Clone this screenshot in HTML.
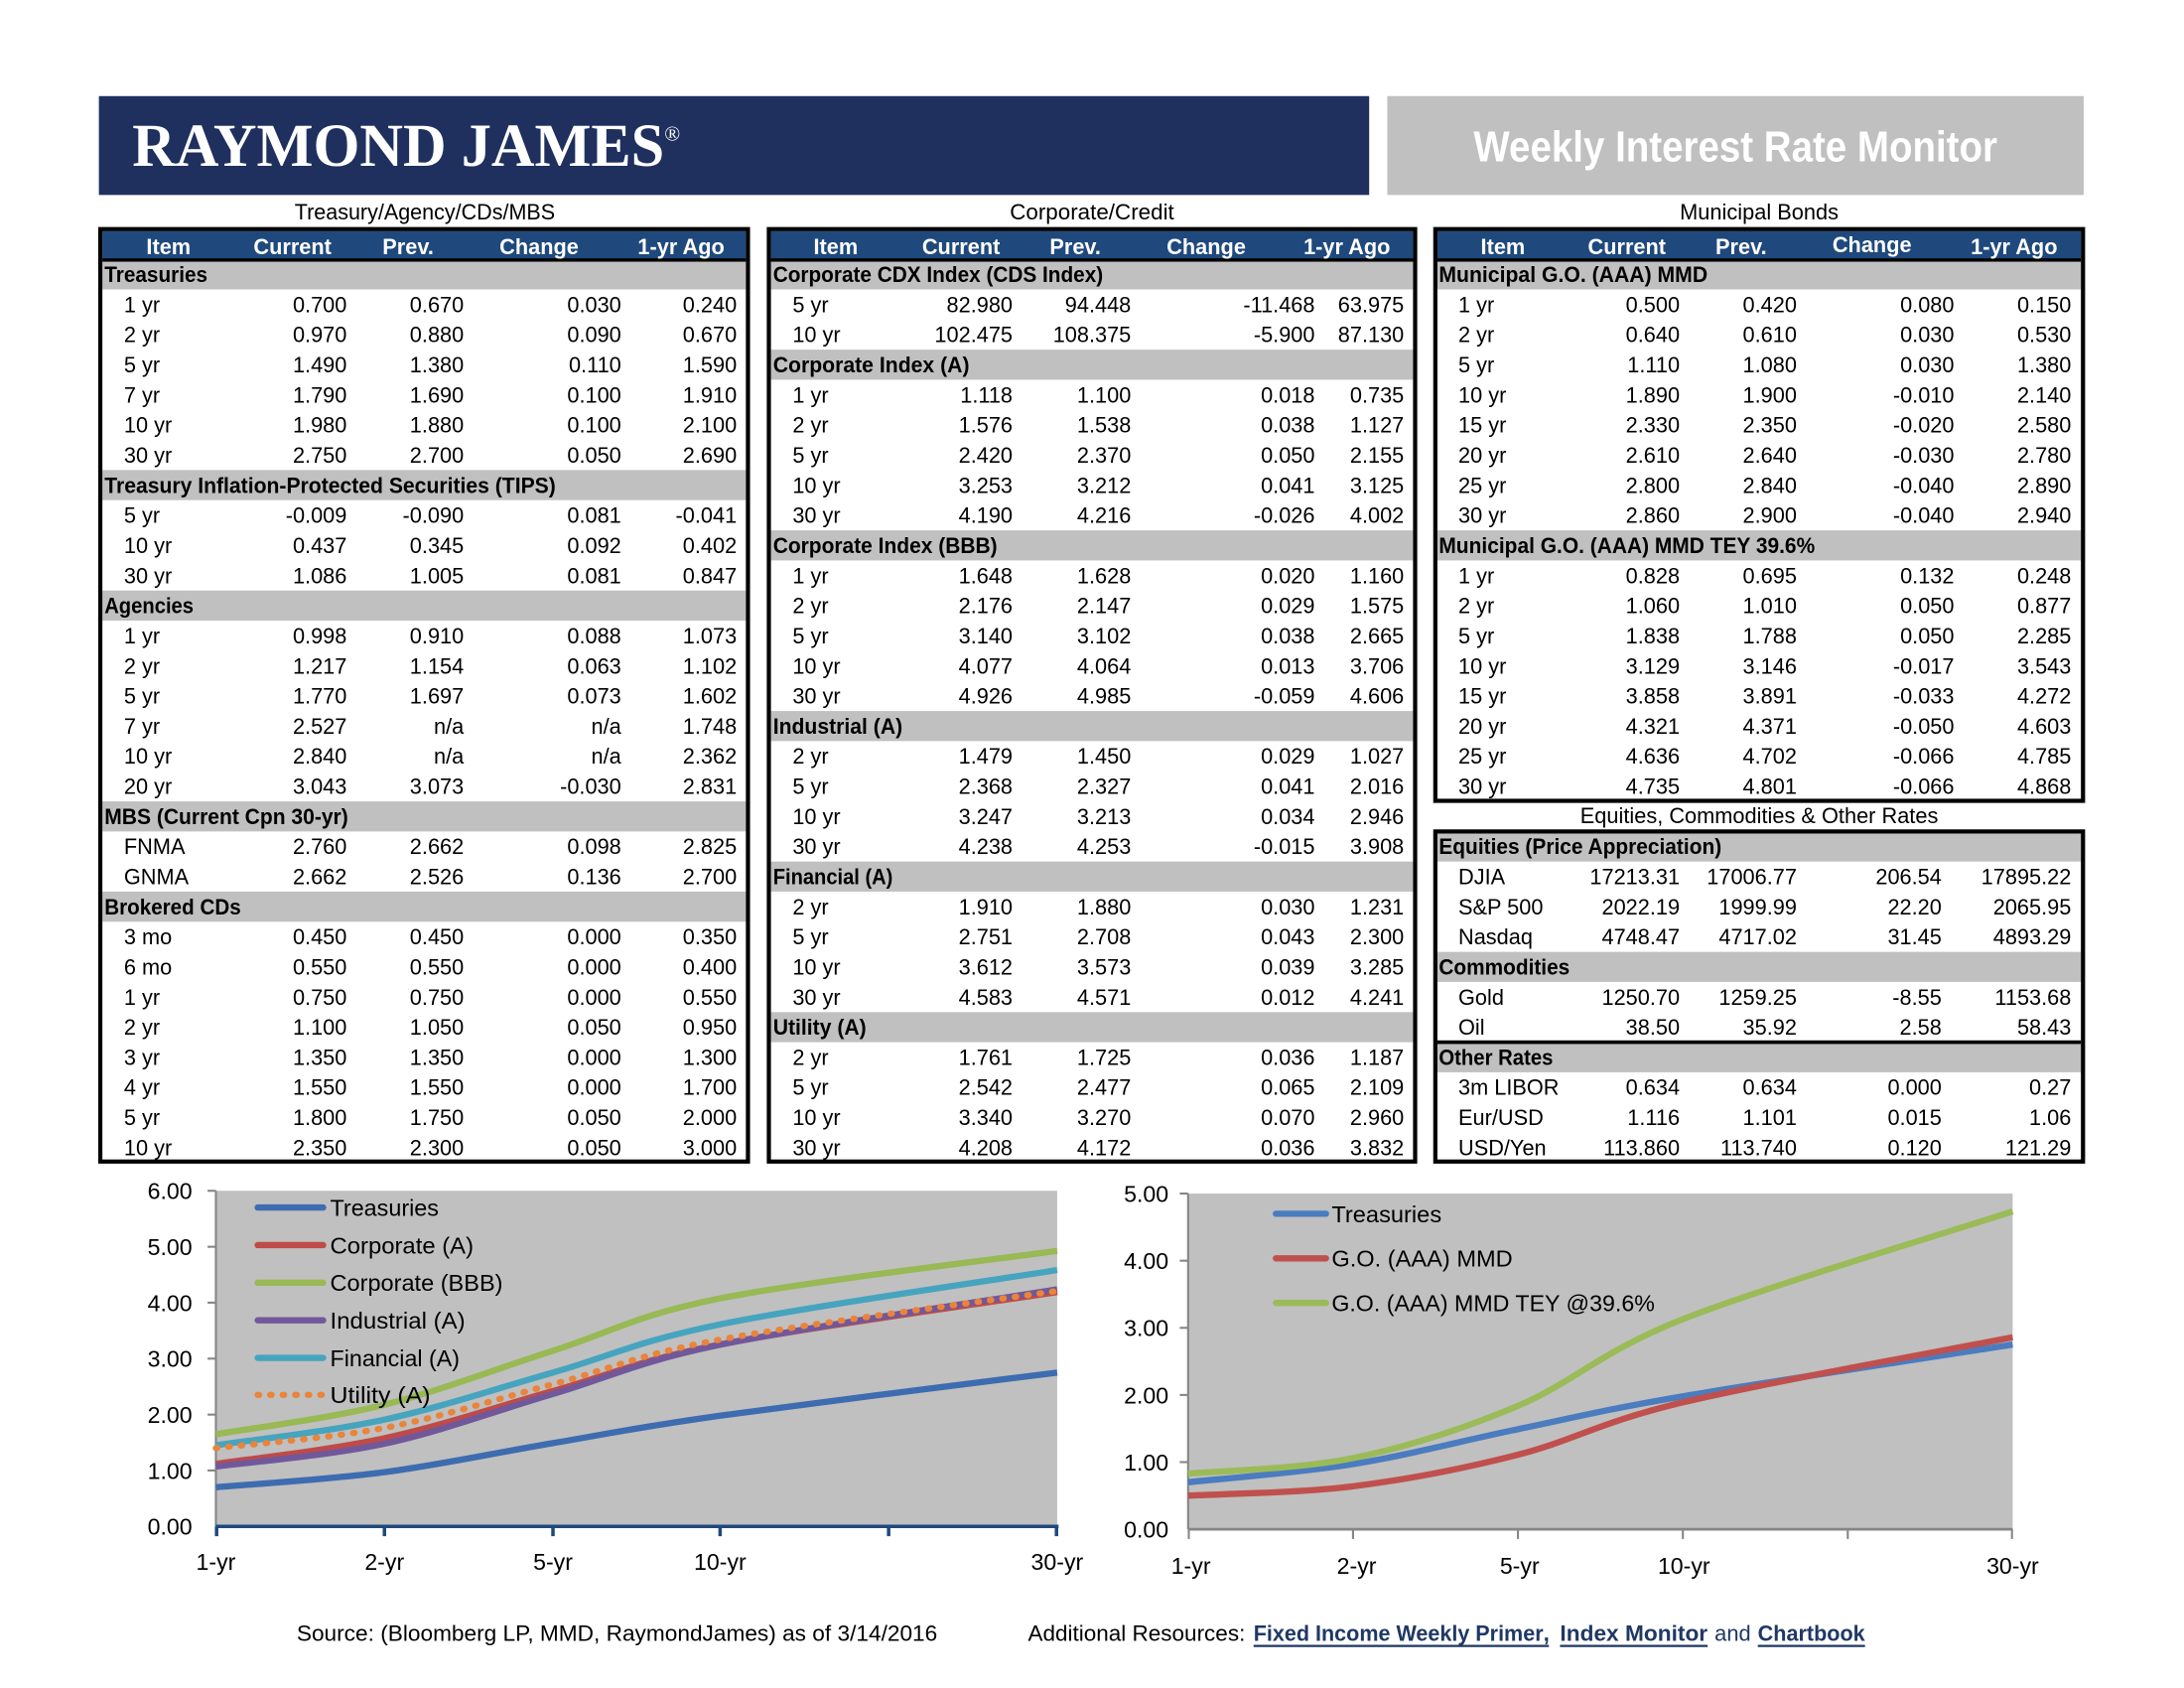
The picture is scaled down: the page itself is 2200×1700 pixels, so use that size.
<!DOCTYPE html>
<html><head><meta charset="utf-8"><style>
html,body{margin:0;padding:0;background:#fff;}
svg{display:block;}
text{font-family:"Liberation Sans",Arial,sans-serif;font-size:15.5px;fill:#000;}
.r{text-anchor:end}
.b{font-weight:bold}
.h{fill:#fff;font-weight:bold;text-anchor:middle}
.m{text-anchor:middle}
.ax{font-size:16.5px}
</style></head><body>
<svg xmlns="http://www.w3.org/2000/svg" width="2200" height="1700" viewBox="0 0 1568 1212" preserveAspectRatio="none">
<rect x="0" y="0" width="1568" height="1212" fill="#fff"/>
<!-- Header -->
<rect x="71" y="69" width="912" height="71" fill="#1f305e"/>
<text x="95" y="119" style="font-family:'Liberation Serif',serif;font-size:44px;font-weight:bold;fill:#fff" textLength="382" lengthAdjust="spacingAndGlyphs">RAYMOND JAMES</text>
<text x="477" y="101" style="font-family:'Liberation Serif',serif;font-size:15px;fill:#fff">®</text>
<rect x="996" y="69" width="500" height="71" fill="#c0c0c0"/>
<text x="1058" y="116" style="font-size:31px;font-weight:bold;fill:#fff" textLength="376" lengthAdjust="spacingAndGlyphs">Weekly Interest Rate Monitor</text>

<!-- Section titles -->
<text class="m" x="305" y="157.5" textLength="187" lengthAdjust="spacingAndGlyphs">Treasury/Agency/CDs/MBS</text>
<text class="m" x="784" y="157.5" textLength="118" lengthAdjust="spacingAndGlyphs">Corporate/Credit</text>
<text class="m" x="1263" y="157.5" textLength="114" lengthAdjust="spacingAndGlyphs">Municipal Bonds</text>
<text class="m" x="1263" y="591" textLength="257" lengthAdjust="spacingAndGlyphs">Equities, Commodities &amp; Other Rates</text>

<!-- ============ TABLE 1 ============ -->
<rect x="72" y="164.5" width="465" height="669.5" fill="#fff"/>
<rect x="73.5" y="166" width="462" height="20" fill="#1f497d"/>
<rect x="73.5" y="185.5" width="462" height="2.5" fill="#000"/>
<rect x="73.5" y="188" width="462" height="19.8" fill="#c0c0c0"/>
<rect x="73.5" y="337.5" width="462" height="21.6" fill="#c0c0c0"/>
<rect x="73.5" y="424" width="462" height="21.6" fill="#c0c0c0"/>
<rect x="73.5" y="575.4" width="462" height="21.6" fill="#c0c0c0"/>
<rect x="73.5" y="640.2" width="462" height="21.6" fill="#c0c0c0"/>
<rect x="72" y="164.5" width="465" height="669.5" fill="none" stroke="#000" stroke-width="3"/>
<text class="h" y="182.5"><tspan x="121">Item</tspan><tspan x="210">Current</tspan><tspan x="293">Prev.</tspan><tspan x="387">Change</tspan><tspan x="489">1-yr Ago</tspan></text>

<text class="b" x="75" y="202.5" textLength="74" lengthAdjust="spacingAndGlyphs">Treasuries</text>
<text x="89" y="224.1">1 yr</text><text class="r" y="224.1"><tspan x="249">0.700</tspan><tspan x="333">0.670</tspan><tspan x="446">0.030</tspan><tspan x="529">0.240</tspan></text>
<text x="89" y="245.7">2 yr</text><text class="r" y="245.7"><tspan x="249">0.970</tspan><tspan x="333">0.880</tspan><tspan x="446">0.090</tspan><tspan x="529">0.670</tspan></text>
<text x="89" y="267.4">5 yr</text><text class="r" y="267.4"><tspan x="249">1.490</tspan><tspan x="333">1.380</tspan><tspan x="446">0.110</tspan><tspan x="529">1.590</tspan></text>
<text x="89" y="289">7 yr</text><text class="r" y="289"><tspan x="249">1.790</tspan><tspan x="333">1.690</tspan><tspan x="446">0.100</tspan><tspan x="529">1.910</tspan></text>
<text x="89" y="310.6">10 yr</text><text class="r" y="310.6"><tspan x="249">1.980</tspan><tspan x="333">1.880</tspan><tspan x="446">0.100</tspan><tspan x="529">2.100</tspan></text>
<text x="89" y="332.2">30 yr</text><text class="r" y="332.2"><tspan x="249">2.750</tspan><tspan x="333">2.700</tspan><tspan x="446">0.050</tspan><tspan x="529">2.690</tspan></text>
<text class="b" x="75" y="353.8" textLength="324" lengthAdjust="spacingAndGlyphs">Treasury Inflation-Protected Securities (TIPS)</text>
<text x="89" y="375.5">5 yr</text><text class="r" y="375.5"><tspan x="249">-0.009</tspan><tspan x="333">-0.090</tspan><tspan x="446">0.081</tspan><tspan x="529">-0.041</tspan></text>
<text x="89" y="397.1">10 yr</text><text class="r" y="397.1"><tspan x="249">0.437</tspan><tspan x="333">0.345</tspan><tspan x="446">0.092</tspan><tspan x="529">0.402</tspan></text>
<text x="89" y="418.7">30 yr</text><text class="r" y="418.7"><tspan x="249">1.086</tspan><tspan x="333">1.005</tspan><tspan x="446">0.081</tspan><tspan x="529">0.847</tspan></text>
<text class="b" x="75" y="440.3" textLength="64" lengthAdjust="spacingAndGlyphs">Agencies</text>
<text x="89" y="461.9">1 yr</text><text class="r" y="461.9"><tspan x="249">0.998</tspan><tspan x="333">0.910</tspan><tspan x="446">0.088</tspan><tspan x="529">1.073</tspan></text>
<text x="89" y="483.6">2 yr</text><text class="r" y="483.6"><tspan x="249">1.217</tspan><tspan x="333">1.154</tspan><tspan x="446">0.063</tspan><tspan x="529">1.102</tspan></text>
<text x="89" y="505.2">5 yr</text><text class="r" y="505.2"><tspan x="249">1.770</tspan><tspan x="333">1.697</tspan><tspan x="446">0.073</tspan><tspan x="529">1.602</tspan></text>
<text x="89" y="526.8">7 yr</text><text class="r" y="526.8"><tspan x="249">2.527</tspan><tspan x="333">n/a</tspan><tspan x="446">n/a</tspan><tspan x="529">1.748</tspan></text>
<text x="89" y="548.4">10 yr</text><text class="r" y="548.4"><tspan x="249">2.840</tspan><tspan x="333">n/a</tspan><tspan x="446">n/a</tspan><tspan x="529">2.362</tspan></text>
<text x="89" y="570">20 yr</text><text class="r" y="570"><tspan x="249">3.043</tspan><tspan x="333">3.073</tspan><tspan x="446">-0.030</tspan><tspan x="529">2.831</tspan></text>
<text class="b" x="75" y="591.7" textLength="175" lengthAdjust="spacingAndGlyphs">MBS (Current Cpn 30-yr)</text>
<text x="89" y="613.3">FNMA</text><text class="r" y="613.3"><tspan x="249">2.760</tspan><tspan x="333">2.662</tspan><tspan x="446">0.098</tspan><tspan x="529">2.825</tspan></text>
<text x="89" y="634.9">GNMA</text><text class="r" y="634.9"><tspan x="249">2.662</tspan><tspan x="333">2.526</tspan><tspan x="446">0.136</tspan><tspan x="529">2.700</tspan></text>
<text class="b" x="75" y="656.5" textLength="98" lengthAdjust="spacingAndGlyphs">Brokered CDs</text>
<text x="89" y="678.1">3 mo</text><text class="r" y="678.1"><tspan x="249">0.450</tspan><tspan x="333">0.450</tspan><tspan x="446">0.000</tspan><tspan x="529">0.350</tspan></text>
<text x="89" y="699.8">6 mo</text><text class="r" y="699.8"><tspan x="249">0.550</tspan><tspan x="333">0.550</tspan><tspan x="446">0.000</tspan><tspan x="529">0.400</tspan></text>
<text x="89" y="721.4">1 yr</text><text class="r" y="721.4"><tspan x="249">0.750</tspan><tspan x="333">0.750</tspan><tspan x="446">0.000</tspan><tspan x="529">0.550</tspan></text>
<text x="89" y="743">2 yr</text><text class="r" y="743"><tspan x="249">1.100</tspan><tspan x="333">1.050</tspan><tspan x="446">0.050</tspan><tspan x="529">0.950</tspan></text>
<text x="89" y="764.6">3 yr</text><text class="r" y="764.6"><tspan x="249">1.350</tspan><tspan x="333">1.350</tspan><tspan x="446">0.000</tspan><tspan x="529">1.300</tspan></text>
<text x="89" y="786.2">4 yr</text><text class="r" y="786.2"><tspan x="249">1.550</tspan><tspan x="333">1.550</tspan><tspan x="446">0.000</tspan><tspan x="529">1.700</tspan></text>
<text x="89" y="807.9">5 yr</text><text class="r" y="807.9"><tspan x="249">1.800</tspan><tspan x="333">1.750</tspan><tspan x="446">0.050</tspan><tspan x="529">2.000</tspan></text>
<text x="89" y="829.5">10 yr</text><text class="r" y="829.5"><tspan x="249">2.350</tspan><tspan x="333">2.300</tspan><tspan x="446">0.050</tspan><tspan x="529">3.000</tspan></text>

<!-- ============ TABLE 2 ============ -->
<rect x="552" y="164.5" width="464" height="669.5" fill="#fff"/>
<rect x="553.5" y="166" width="461" height="20" fill="#1f497d"/>
<rect x="553.5" y="185.5" width="461" height="2.5" fill="#000"/>
<rect x="553.5" y="188" width="461" height="19.8" fill="#c0c0c0"/>
<rect x="553.5" y="251.05" width="461" height="21.6" fill="#c0c0c0"/>
<rect x="553.5" y="380.8" width="461" height="21.6" fill="#c0c0c0"/>
<rect x="553.5" y="510.5" width="461" height="21.6" fill="#c0c0c0"/>
<rect x="553.5" y="618.6" width="461" height="21.6" fill="#c0c0c0"/>
<rect x="553.5" y="726.7" width="461" height="21.6" fill="#c0c0c0"/>
<rect x="552" y="164.5" width="464" height="669.5" fill="none" stroke="#000" stroke-width="3"/>
<text class="h" y="182.5"><tspan x="600">Item</tspan><tspan x="690">Current</tspan><tspan x="772">Prev.</tspan><tspan x="866">Change</tspan><tspan x="967">1-yr Ago</tspan></text>

<text class="b" x="555" y="202.5" textLength="237" lengthAdjust="spacingAndGlyphs">Corporate CDX Index (CDS Index)</text>
<text x="569" y="224.1">5 yr</text><text class="r" y="224.1"><tspan x="727">82.980</tspan><tspan x="812">94.448</tspan><tspan x="944">-11.468</tspan><tspan x="1008">63.975</tspan></text>
<text x="569" y="245.7">10 yr</text><text class="r" y="245.7"><tspan x="727">102.475</tspan><tspan x="812">108.375</tspan><tspan x="944">-5.900</tspan><tspan x="1008">87.130</tspan></text>
<text class="b" x="555" y="267.4" textLength="141" lengthAdjust="spacingAndGlyphs">Corporate Index (A)</text>
<text x="569" y="289">1 yr</text><text class="r" y="289"><tspan x="727">1.118</tspan><tspan x="812">1.100</tspan><tspan x="944">0.018</tspan><tspan x="1008">0.735</tspan></text>
<text x="569" y="310.6">2 yr</text><text class="r" y="310.6"><tspan x="727">1.576</tspan><tspan x="812">1.538</tspan><tspan x="944">0.038</tspan><tspan x="1008">1.127</tspan></text>
<text x="569" y="332.2">5 yr</text><text class="r" y="332.2"><tspan x="727">2.420</tspan><tspan x="812">2.370</tspan><tspan x="944">0.050</tspan><tspan x="1008">2.155</tspan></text>
<text x="569" y="353.8">10 yr</text><text class="r" y="353.8"><tspan x="727">3.253</tspan><tspan x="812">3.212</tspan><tspan x="944">0.041</tspan><tspan x="1008">3.125</tspan></text>
<text x="569" y="375.5">30 yr</text><text class="r" y="375.5"><tspan x="727">4.190</tspan><tspan x="812">4.216</tspan><tspan x="944">-0.026</tspan><tspan x="1008">4.002</tspan></text>
<text class="b" x="555" y="397.1" textLength="161" lengthAdjust="spacingAndGlyphs">Corporate Index (BBB)</text>
<text x="569" y="418.7">1 yr</text><text class="r" y="418.7"><tspan x="727">1.648</tspan><tspan x="812">1.628</tspan><tspan x="944">0.020</tspan><tspan x="1008">1.160</tspan></text>
<text x="569" y="440.3">2 yr</text><text class="r" y="440.3"><tspan x="727">2.176</tspan><tspan x="812">2.147</tspan><tspan x="944">0.029</tspan><tspan x="1008">1.575</tspan></text>
<text x="569" y="461.9">5 yr</text><text class="r" y="461.9"><tspan x="727">3.140</tspan><tspan x="812">3.102</tspan><tspan x="944">0.038</tspan><tspan x="1008">2.665</tspan></text>
<text x="569" y="483.6">10 yr</text><text class="r" y="483.6"><tspan x="727">4.077</tspan><tspan x="812">4.064</tspan><tspan x="944">0.013</tspan><tspan x="1008">3.706</tspan></text>
<text x="569" y="505.2">30 yr</text><text class="r" y="505.2"><tspan x="727">4.926</tspan><tspan x="812">4.985</tspan><tspan x="944">-0.059</tspan><tspan x="1008">4.606</tspan></text>
<text class="b" x="555" y="526.8" textLength="93" lengthAdjust="spacingAndGlyphs">Industrial (A)</text>
<text x="569" y="548.4">2 yr</text><text class="r" y="548.4"><tspan x="727">1.479</tspan><tspan x="812">1.450</tspan><tspan x="944">0.029</tspan><tspan x="1008">1.027</tspan></text>
<text x="569" y="570">5 yr</text><text class="r" y="570"><tspan x="727">2.368</tspan><tspan x="812">2.327</tspan><tspan x="944">0.041</tspan><tspan x="1008">2.016</tspan></text>
<text x="569" y="591.7">10 yr</text><text class="r" y="591.7"><tspan x="727">3.247</tspan><tspan x="812">3.213</tspan><tspan x="944">0.034</tspan><tspan x="1008">2.946</tspan></text>
<text x="569" y="613.3">30 yr</text><text class="r" y="613.3"><tspan x="727">4.238</tspan><tspan x="812">4.253</tspan><tspan x="944">-0.015</tspan><tspan x="1008">3.908</tspan></text>
<text class="b" x="555" y="634.9" textLength="86" lengthAdjust="spacingAndGlyphs">Financial (A)</text>
<text x="569" y="656.5">2 yr</text><text class="r" y="656.5"><tspan x="727">1.910</tspan><tspan x="812">1.880</tspan><tspan x="944">0.030</tspan><tspan x="1008">1.231</tspan></text>
<text x="569" y="678.1">5 yr</text><text class="r" y="678.1"><tspan x="727">2.751</tspan><tspan x="812">2.708</tspan><tspan x="944">0.043</tspan><tspan x="1008">2.300</tspan></text>
<text x="569" y="699.8">10 yr</text><text class="r" y="699.8"><tspan x="727">3.612</tspan><tspan x="812">3.573</tspan><tspan x="944">0.039</tspan><tspan x="1008">3.285</tspan></text>
<text x="569" y="721.4">30 yr</text><text class="r" y="721.4"><tspan x="727">4.583</tspan><tspan x="812">4.571</tspan><tspan x="944">0.012</tspan><tspan x="1008">4.241</tspan></text>
<text class="b" x="555" y="743" textLength="67" lengthAdjust="spacingAndGlyphs">Utility (A)</text>
<text x="569" y="764.6">2 yr</text><text class="r" y="764.6"><tspan x="727">1.761</tspan><tspan x="812">1.725</tspan><tspan x="944">0.036</tspan><tspan x="1008">1.187</tspan></text>
<text x="569" y="786.2">5 yr</text><text class="r" y="786.2"><tspan x="727">2.542</tspan><tspan x="812">2.477</tspan><tspan x="944">0.065</tspan><tspan x="1008">2.109</tspan></text>
<text x="569" y="807.9">10 yr</text><text class="r" y="807.9"><tspan x="727">3.340</tspan><tspan x="812">3.270</tspan><tspan x="944">0.070</tspan><tspan x="1008">2.960</tspan></text>
<text x="569" y="829.5">30 yr</text><text class="r" y="829.5"><tspan x="727">4.208</tspan><tspan x="812">4.172</tspan><tspan x="944">0.036</tspan><tspan x="1008">3.832</tspan></text>

<!-- ============ TABLE 3 (Muni) ============ -->
<rect x="1030.5" y="164.5" width="465" height="410.5" fill="#fff"/>
<rect x="1032" y="166" width="462" height="20" fill="#1f497d"/>
<rect x="1032" y="185.5" width="462" height="2.5" fill="#000"/>
<rect x="1032" y="188" width="462" height="19.8" fill="#c0c0c0"/>
<rect x="1032" y="380.8" width="462" height="21.6" fill="#c0c0c0"/>
<rect x="1030.5" y="164.5" width="465" height="410.5" fill="none" stroke="#000" stroke-width="3"/>
<text class="h" y="182.5"><tspan x="1079">Item</tspan><tspan x="1168">Current</tspan><tspan x="1250">Prev.</tspan><tspan x="1446">1-yr Ago</tspan></text>
<text class="h" x="1344" y="181">Change</text>

<text class="b" x="1033" y="202.5" textLength="193" lengthAdjust="spacingAndGlyphs">Municipal G.O. (AAA) MMD</text>
<text x="1047" y="224.1">1 yr</text><text class="r" y="224.1"><tspan x="1206">0.500</tspan><tspan x="1290">0.420</tspan><tspan x="1403">0.080</tspan><tspan x="1487">0.150</tspan></text>
<text x="1047" y="245.7">2 yr</text><text class="r" y="245.7"><tspan x="1206">0.640</tspan><tspan x="1290">0.610</tspan><tspan x="1403">0.030</tspan><tspan x="1487">0.530</tspan></text>
<text x="1047" y="267.4">5 yr</text><text class="r" y="267.4"><tspan x="1206">1.110</tspan><tspan x="1290">1.080</tspan><tspan x="1403">0.030</tspan><tspan x="1487">1.380</tspan></text>
<text x="1047" y="289">10 yr</text><text class="r" y="289"><tspan x="1206">1.890</tspan><tspan x="1290">1.900</tspan><tspan x="1403">-0.010</tspan><tspan x="1487">2.140</tspan></text>
<text x="1047" y="310.6">15 yr</text><text class="r" y="310.6"><tspan x="1206">2.330</tspan><tspan x="1290">2.350</tspan><tspan x="1403">-0.020</tspan><tspan x="1487">2.580</tspan></text>
<text x="1047" y="332.2">20 yr</text><text class="r" y="332.2"><tspan x="1206">2.610</tspan><tspan x="1290">2.640</tspan><tspan x="1403">-0.030</tspan><tspan x="1487">2.780</tspan></text>
<text x="1047" y="353.8">25 yr</text><text class="r" y="353.8"><tspan x="1206">2.800</tspan><tspan x="1290">2.840</tspan><tspan x="1403">-0.040</tspan><tspan x="1487">2.890</tspan></text>
<text x="1047" y="375.5">30 yr</text><text class="r" y="375.5"><tspan x="1206">2.860</tspan><tspan x="1290">2.900</tspan><tspan x="1403">-0.040</tspan><tspan x="1487">2.940</tspan></text>
<text class="b" x="1033" y="397.1" textLength="270" lengthAdjust="spacingAndGlyphs">Municipal G.O. (AAA) MMD TEY 39.6%</text>
<text x="1047" y="418.7">1 yr</text><text class="r" y="418.7"><tspan x="1206">0.828</tspan><tspan x="1290">0.695</tspan><tspan x="1403">0.132</tspan><tspan x="1487">0.248</tspan></text>
<text x="1047" y="440.3">2 yr</text><text class="r" y="440.3"><tspan x="1206">1.060</tspan><tspan x="1290">1.010</tspan><tspan x="1403">0.050</tspan><tspan x="1487">0.877</tspan></text>
<text x="1047" y="461.9">5 yr</text><text class="r" y="461.9"><tspan x="1206">1.838</tspan><tspan x="1290">1.788</tspan><tspan x="1403">0.050</tspan><tspan x="1487">2.285</tspan></text>
<text x="1047" y="483.6">10 yr</text><text class="r" y="483.6"><tspan x="1206">3.129</tspan><tspan x="1290">3.146</tspan><tspan x="1403">-0.017</tspan><tspan x="1487">3.543</tspan></text>
<text x="1047" y="505.2">15 yr</text><text class="r" y="505.2"><tspan x="1206">3.858</tspan><tspan x="1290">3.891</tspan><tspan x="1403">-0.033</tspan><tspan x="1487">4.272</tspan></text>
<text x="1047" y="526.8">20 yr</text><text class="r" y="526.8"><tspan x="1206">4.321</tspan><tspan x="1290">4.371</tspan><tspan x="1403">-0.050</tspan><tspan x="1487">4.603</tspan></text>
<text x="1047" y="548.4">25 yr</text><text class="r" y="548.4"><tspan x="1206">4.636</tspan><tspan x="1290">4.702</tspan><tspan x="1403">-0.066</tspan><tspan x="1487">4.785</tspan></text>
<text x="1047" y="570">30 yr</text><text class="r" y="570"><tspan x="1206">4.735</tspan><tspan x="1290">4.801</tspan><tspan x="1403">-0.066</tspan><tspan x="1487">4.868</tspan></text>

<!-- ============ TABLE 4 (Equities) ============ -->
<rect x="1030.5" y="597" width="465" height="237" fill="#fff"/>
<rect x="1032" y="598.5" width="462" height="20.1" fill="#c0c0c0"/>
<rect x="1032" y="683.45" width="462" height="21.6" fill="#c0c0c0"/>
<rect x="1032" y="748.3" width="462" height="21.6" fill="#c0c0c0"/>
<rect x="1032" y="747" width="462" height="2.6" fill="#000"/>
<rect x="1030.5" y="597" width="465" height="237" fill="none" stroke="#000" stroke-width="3"/>
<text class="b" x="1033" y="613.3" textLength="203" lengthAdjust="spacingAndGlyphs">Equities (Price Appreciation)</text>
<text x="1047" y="634.9">DJIA</text><text class="r" y="634.9"><tspan x="1206">17213.31</tspan><tspan x="1290">17006.77</tspan><tspan x="1394">206.54</tspan><tspan x="1487">17895.22</tspan></text>
<text x="1047" y="656.5">S&amp;P 500</text><text class="r" y="656.5"><tspan x="1206">2022.19</tspan><tspan x="1290">1999.99</tspan><tspan x="1394">22.20</tspan><tspan x="1487">2065.95</tspan></text>
<text x="1047" y="678.1">Nasdaq</text><text class="r" y="678.1"><tspan x="1206">4748.47</tspan><tspan x="1290">4717.02</tspan><tspan x="1394">31.45</tspan><tspan x="1487">4893.29</tspan></text>
<text class="b" x="1033" y="699.8" textLength="94" lengthAdjust="spacingAndGlyphs">Commodities</text>
<text x="1047" y="721.4">Gold</text><text class="r" y="721.4"><tspan x="1206">1250.70</tspan><tspan x="1290">1259.25</tspan><tspan x="1394">-8.55</tspan><tspan x="1487">1153.68</tspan></text>
<text x="1047" y="743">Oil</text><text class="r" y="743"><tspan x="1206">38.50</tspan><tspan x="1290">35.92</tspan><tspan x="1394">2.58</tspan><tspan x="1487">58.43</tspan></text>
<text class="b" x="1033" y="764.6" textLength="82" lengthAdjust="spacingAndGlyphs">Other Rates</text>
<text x="1047" y="786.2">3m LIBOR</text><text class="r" y="786.2"><tspan x="1206">0.634</tspan><tspan x="1290">0.634</tspan><tspan x="1394">0.000</tspan><tspan x="1487">0.27</tspan></text>
<text x="1047" y="807.9">Eur/USD</text><text class="r" y="807.9"><tspan x="1206">1.116</tspan><tspan x="1290">1.101</tspan><tspan x="1394">0.015</tspan><tspan x="1487">1.06</tspan></text>
<text x="1047" y="829.5">USD/Yen</text><text class="r" y="829.5"><tspan x="1206">113.860</tspan><tspan x="1290">113.740</tspan><tspan x="1394">0.120</tspan><tspan x="1487">121.29</tspan></text>

<!-- ============ LEFT CHART ============ -->
<rect x="155" y="855" width="604" height="241" fill="#c0c0c0"/>
<g stroke="#868686" stroke-width="1.5" fill="none">
<line x1="155" y1="855" x2="155" y2="1096"/>
<line x1="149" y1="855" x2="155" y2="855"/>
<line x1="149" y1="895.2" x2="155" y2="895.2"/>
<line x1="149" y1="935.3" x2="155" y2="935.3"/>
<line x1="149" y1="975.5" x2="155" y2="975.5"/>
<line x1="149" y1="1015.7" x2="155" y2="1015.7"/>
<line x1="149" y1="1055.8" x2="155" y2="1055.8"/>
</g>
<text class="r ax" x="138" y="861">6.00</text>
<text class="r ax" x="138" y="901.2">5.00</text>
<text class="r ax" x="138" y="941.3">4.00</text>
<text class="r ax" x="138" y="981.5">3.00</text>
<text class="r ax" x="138" y="1021.7">2.00</text>
<text class="r ax" x="138" y="1061.8">1.00</text>
<text class="r ax" x="138" y="1102">0.00</text>
<g fill="none" stroke-width="4.5" stroke-linejoin="round">
<path stroke="#3d6cb0" d="M155,1067.88 C175.2,1066.07 235.7,1062.33 276,1057.04 C316.3,1051.75 356.8,1042.91 397,1036.15 C437.2,1029.39 456.7,1024.90 517,1016.46 C577.3,1008.02 718.7,990.69 759,985.53"/>
<path stroke="#be4b48" d="M155,1051.09 C175.2,1048.02 235.7,1041.41 276,1032.69 C316.3,1023.97 356.8,1010.02 397,998.79 C437.2,987.56 456.7,977.18 517,965.33 C577.3,953.48 718.7,933.96 759,927.69"/>
<path stroke="#98b954" d="M155,1029.80 C175.2,1026.26 235.7,1018.58 276,1008.59 C316.3,998.60 356.8,982.60 397,969.87 C437.2,957.14 456.7,944.19 517,932.23 C577.3,920.27 718.7,903.81 759,898.12"/>
<path stroke="#71589b" d="M155,1053.02 C175.2,1050.28 235.7,1045.28 276,1036.59 C316.3,1027.90 356.8,1012.72 397,1000.88 C437.2,989.04 456.7,978.09 517,965.57 C577.3,953.05 718.7,932.40 759,925.76"/>
<path stroke="#46a4bf" d="M155,1037.75 C175.2,1034.67 235.7,1027.99 276,1019.28 C316.3,1010.57 356.8,996.89 397,985.49 C437.2,974.09 456.7,963.18 517,950.91 C577.3,938.64 718.7,918.40 759,911.90"/>
<path stroke="#ea843a" stroke-dasharray="1 8" stroke-linecap="round" d="M155,1039.76 C175.2,1037.34 235.7,1032.91 276,1025.26 C316.3,1017.61 356.8,1004.46 397,993.89 C437.2,983.32 456.7,972.99 517,961.83 C577.3,950.67 718.7,932.77 759,926.96"/>
</g>
<g stroke="#1f497d" stroke-width="2.5">
<line x1="155" y1="1096" x2="760" y2="1096"/>
<line x1="155.5" y1="1096" x2="155.5" y2="1103"/>
<line x1="276" y1="1096" x2="276" y2="1103"/>
<line x1="397" y1="1096" x2="397" y2="1103"/>
<line x1="517" y1="1096" x2="517" y2="1103"/>
<line x1="638" y1="1096" x2="638" y2="1103"/>
<line x1="758.5" y1="1096" x2="758.5" y2="1103"/>
</g>
<text class="m ax" x="155" y="1127">1-yr</text>
<text class="m ax" x="276" y="1127">2-yr</text>
<text class="m ax" x="397" y="1127">5-yr</text>
<text class="m ax" x="517" y="1127">10-yr</text>
<text class="m ax" x="759" y="1127">30-yr</text>
<!-- legend left -->
<g stroke-width="4.5" stroke-linecap="round">
<line x1="185" y1="867" x2="232" y2="867" stroke="#3d6cb0"/>
<line x1="185" y1="894" x2="232" y2="894" stroke="#be4b48"/>
<line x1="185" y1="921" x2="232" y2="921" stroke="#98b954"/>
<line x1="185" y1="948" x2="232" y2="948" stroke="#71589b"/>
<line x1="185" y1="975" x2="232" y2="975" stroke="#46a4bf"/>
<line x1="185" y1="1001.5" x2="232" y2="1001.5" stroke="#ea843a" stroke-dasharray="1 8"/>
</g>
<text class="ax" x="237" y="873" textLength="78" lengthAdjust="spacingAndGlyphs">Treasuries</text>
<text class="ax" x="237" y="900" textLength="103" lengthAdjust="spacingAndGlyphs">Corporate (A)</text>
<text class="ax" x="237" y="927" textLength="124" lengthAdjust="spacingAndGlyphs">Corporate (BBB)</text>
<text class="ax" x="237" y="954" textLength="97" lengthAdjust="spacingAndGlyphs">Industrial (A)</text>
<text class="ax" x="237" y="981" textLength="93" lengthAdjust="spacingAndGlyphs">Financial (A)</text>
<text class="ax" x="237" y="1007.5" textLength="72" lengthAdjust="spacingAndGlyphs">Utility (A)</text>

<!-- ============ RIGHT CHART ============ -->
<rect x="853" y="857" width="592" height="241" fill="#c0c0c0"/>
<g stroke="#868686" stroke-width="1.5" fill="none">
<line x1="853" y1="857" x2="853" y2="1098"/>
<line x1="847" y1="857" x2="853" y2="857"/>
<line x1="847" y1="905.2" x2="853" y2="905.2"/>
<line x1="847" y1="953.4" x2="853" y2="953.4"/>
<line x1="847" y1="1001.6" x2="853" y2="1001.6"/>
<line x1="847" y1="1049.8" x2="853" y2="1049.8"/>
<line x1="853" y1="1098" x2="1445" y2="1098" stroke-width="2"/>
<line x1="853.5" y1="1098" x2="853.5" y2="1105"/>
<line x1="971.4" y1="1098" x2="971.4" y2="1105"/>
<line x1="1089.8" y1="1098" x2="1089.8" y2="1105"/>
<line x1="1208.2" y1="1098" x2="1208.2" y2="1105"/>
<line x1="1326.6" y1="1098" x2="1326.6" y2="1105"/>
<line x1="1444.5" y1="1098" x2="1444.5" y2="1105"/>
</g>
<text class="r ax" x="839" y="863">5.00</text>
<text class="r ax" x="839" y="911.2">4.00</text>
<text class="r ax" x="839" y="959.4">3.00</text>
<text class="r ax" x="839" y="1007.6">2.00</text>
<text class="r ax" x="839" y="1055.8">1.00</text>
<text class="r ax" x="839" y="1104">0.00</text>
<g fill="none" stroke-width="4.5" stroke-linejoin="round">
<path stroke="#4a7cbf" d="M853,1064.26 C872.7,1062.09 931.9,1057.60 971.4,1051.25 C1010.9,1044.90 1050.3,1034.30 1089.8,1026.18 C1129.3,1018.06 1149.0,1012.68 1208.2,1002.56 C1267.4,992.44 1405.5,971.64 1445,965.45"/>
<path stroke="#c0504d" d="M853,1073.9 C872.7,1072.77 931.9,1072.05 971.4,1067.15 C1010.9,1062.25 1050.3,1054.54 1089.8,1044.50 C1129.3,1034.46 1149.0,1020.96 1208.2,1006.90 C1267.4,992.84 1405.5,967.94 1445,960.15"/>
<path stroke="#9bbb59" d="M853,1058.09 C872.7,1056.23 931.9,1055.02 971.4,1046.91 C1010.9,1038.80 1050.3,1026.03 1089.8,1009.41 C1129.3,992.79 1149.0,970.45 1208.2,947.18 C1267.4,923.91 1405.5,882.67 1445,869.77"/>
</g>
<text class="m ax" x="855" y="1130">1-yr</text>
<text class="m ax" x="974" y="1130">2-yr</text>
<text class="m ax" x="1091" y="1130">5-yr</text>
<text class="m ax" x="1209" y="1130">10-yr</text>
<text class="m ax" x="1445" y="1130">30-yr</text>
<g stroke-width="4.5" stroke-linecap="round">
<line x1="916" y1="871.5" x2="952" y2="871.5" stroke="#4a7cbf"/>
<line x1="916" y1="903.5" x2="952" y2="903.5" stroke="#c0504d"/>
<line x1="916" y1="935.5" x2="952" y2="935.5" stroke="#9bbb59"/>
</g>
<text class="ax" x="956" y="877.5" textLength="79" lengthAdjust="spacingAndGlyphs">Treasuries</text>
<text class="ax" x="956" y="909.5" textLength="130" lengthAdjust="spacingAndGlyphs">G.O. (AAA) MMD</text>
<text class="ax" x="956" y="941.5" textLength="232" lengthAdjust="spacingAndGlyphs">G.O. (AAA) MMD TEY @39.6%</text>

<!-- ============ FOOTER ============ -->
<text x="213" y="1178" style="font-size:16px" textLength="460" lengthAdjust="spacingAndGlyphs">Source: (Bloomberg LP, MMD, RaymondJames) as of 3/14/2016</text>
<text x="738" y="1178" style="font-size:16px" textLength="156" lengthAdjust="spacingAndGlyphs">Additional Resources:</text>
<text x="900" y="1178" style="font-size:16px;font-weight:bold;fill:#1f3864" textLength="208" lengthAdjust="spacingAndGlyphs">Fixed Income Weekly Primer</text>
<text x="1108" y="1178" style="font-size:16px;font-weight:bold;fill:#1f3864">,</text>
<text x="1120" y="1178" style="font-size:16px;font-weight:bold;fill:#1f3864" textLength="106" lengthAdjust="spacingAndGlyphs">Index Monitor</text>
<text x="1231" y="1178" style="font-size:16px;fill:#1f3864" textLength="26" lengthAdjust="spacingAndGlyphs">and</text>
<text x="1262" y="1178" style="font-size:16px;font-weight:bold;fill:#1f3864" textLength="77" lengthAdjust="spacingAndGlyphs">Chartbook</text>
<rect x="900" y="1181" width="212" height="1.6" fill="#1f3864"/>
<rect x="1120" y="1181" width="106" height="1.6" fill="#1f3864"/>
<rect x="1262" y="1181" width="77" height="1.6" fill="#1f3864"/>
</svg>
</body></html>
